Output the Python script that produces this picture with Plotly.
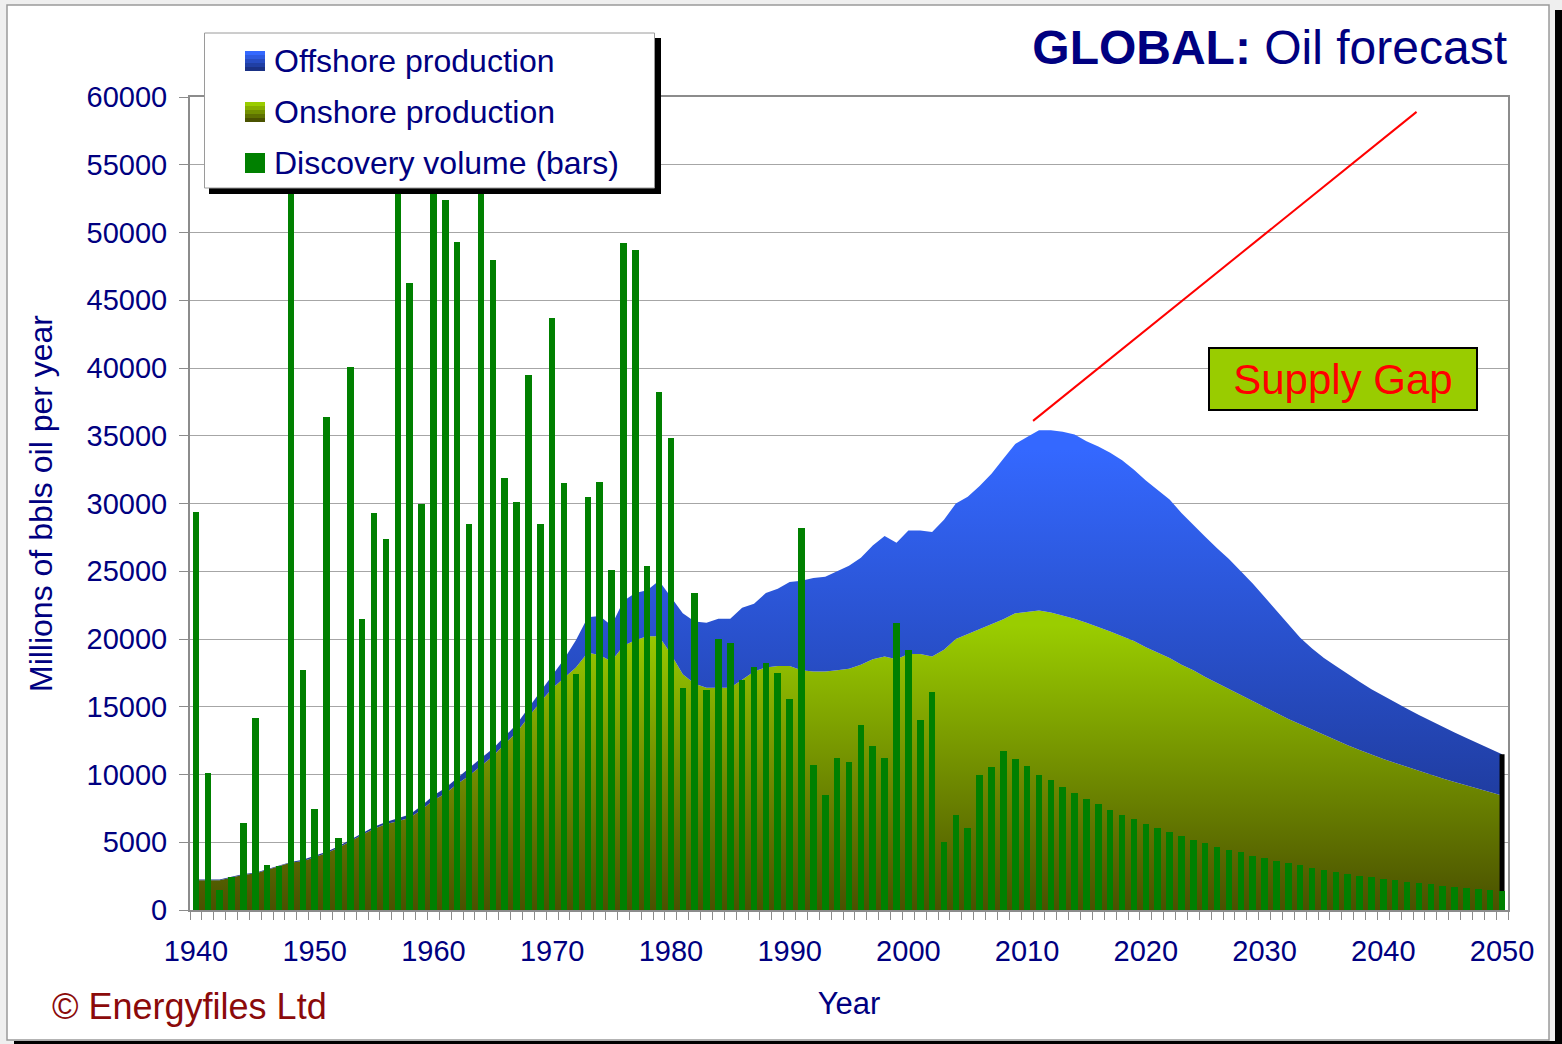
import plotly.graph_objects as go

# ---------------- data ----------------
years = list(range(1940, 2051))
x_tick_labels = [1940, 1950, 1960, 1970, 1980, 1990, 2000, 2010, 2020, 2030, 2040, 2050]

# Onshore production (millions of bbls per year)
onshore = [
    2200, 2200, 2200, 2400, 2600, 2700, 2950, 3250, 3500, 3600,        # 1940s
    3900, 4200, 4600, 5100, 5550, 6000, 6350, 6550, 6800, 7400,        # 1950s
    8100, 8600, 9300, 9900, 10650, 11350, 12250, 13100, 14250, 15350,  # 1960s
    16350, 17150, 17900, 19000, 18800, 18350, 19500, 19900, 20200, 20200,  # 1970s
    18900, 17400, 16700, 16400, 16400, 16400, 17000, 17600, 17900, 18000,  # 1980s
    18000, 17700, 17600, 17600, 17700, 17800, 18100, 18500, 18700, 18500,  # 1990s
    18900, 18900, 18700, 19200, 20000, 20350, 20700, 21100, 21450, 21900,  # 2000s
    22000, 22100, 21950, 21750, 21500, 21200, 20900, 20550, 20200, 19850,  # 2010s
    19400, 19000, 18600, 18100, 17700, 17200, 16750, 16300, 15850, 15400,  # 2020s
    14950, 14500, 14100, 13700, 13300, 12900, 12500, 12150, 11800, 11450,  # 2030s
    11150, 10850, 10550, 10250, 9950, 9700, 9450, 9200, 8950, 8700,        # 2040s
    8450,                                                              # 2050
]

# Offshore production (stacked on top of onshore)
offshore = [
    50, 50, 50, 50, 50, 50, 50, 50, 50, 100,
    100, 100, 100, 100, 100, 150, 150, 200, 250, 300,
    350, 400, 450, 550, 550, 550, 550, 600, 650, 750,
    950, 1350, 2000, 2600, 2900, 2650, 3300, 3500, 3400, 4100,
    4200, 4500, 4600, 4800, 5100, 5100, 5300, 5000, 5500, 5700,
    6200, 6600, 6900, 7000, 7300, 7600, 7900, 8400, 8900, 8600,
    9100, 9100, 9200, 9600, 10000, 10150, 10600, 11100, 11850, 12500,
    12900, 13300, 13450, 13550, 13600, 13400, 13300, 13200, 13000, 12650,
    12300, 12000, 11700, 11200, 10700, 10350, 9950, 9600, 9150, 8700,
    8150, 7600, 7000, 6400, 6000, 5700, 5500, 5250, 5050, 4850,
    4650, 4450, 4300, 4150, 4000, 3800, 3650, 3500, 3350, 3200,
    3050,
]

# Discovery volume (bars)
discovery = [
    29400, 10100, 1450, 2450, 6450, 14150, 3350, 3250, 57000, 17700,
    7450, 36400, 5350, 40100, 21500, 29300, 27400, 56000, 46300, 30000,
    55000, 52400, 49300, 28500, 58000, 48000, 31900, 30100, 39500, 28500,
    43700, 31500, 17400, 30500, 31600, 25100, 49200, 48700, 25400, 38200,
    34800, 16400, 23400, 16200, 20000, 19700, 17000, 17900, 18200, 17500,
    15600, 28200, 10700, 8500, 11200, 10900, 13650, 12100, 11200, 21200,
    19200, 14000, 16100, 5000, 7000, 6050, 10000, 10550, 11700, 11150,
    10600, 10000, 9600, 9100, 8600, 8200, 7800, 7400, 7000, 6700,
    6350, 6050, 5750, 5450, 5150, 4950, 4650, 4430, 4280, 3990,
    3840, 3620, 3470, 3320, 3100, 2950, 2800, 2660, 2510, 2410,
    2260, 2210, 2070, 1990, 1920, 1770, 1670, 1620, 1530, 1480,
    1400,
]

series_names = ["Offshore production", "Onshore production", "Discovery volume (bars)"]

# ---------------- styling ----------------
FONT = "Liberation Sans, Arial, sans-serif"
NAVY = "#000080"
W, H = 1562, 1044
L, R, T, B = 190, 54, 97, 134
PW, PH = W - L - R, H - T - B


def px_x(px):
    return (px - L) / PW


def px_y(py):
    return (H - B - py) / PH


fig = go.Figure()

fig.add_trace(go.Scatter(
    x=years, y=onshore, name=series_names[1], stackgroup="prod", mode="lines",
    line=dict(width=0, color="#99cc00"),
    fillgradient=dict(type="vertical", colorscale=[[0, "#4a5000"], [1, "#9acd00"]],
                      start=0, stop=21000),
    showlegend=False, hoverinfo="x+y",
))
fig.add_trace(go.Scatter(
    x=years, y=offshore, name=series_names[0], stackgroup="prod", mode="lines",
    line=dict(width=0, color="#3366ff"),
    fillgradient=dict(type="vertical",
                      colorscale=[[0, "#182f80"], [0.3, "#2140a8"], [1, "#3468ff"]],
                      start=0, stop=34000),
    showlegend=False, hoverinfo="x+y",
))
# black edge at the right end of the stacked area
fig.add_trace(go.Scatter(
    x=[years[-1], years[-1]], y=[0, onshore[-1] + offshore[-1]], mode="lines",
    line=dict(color="black", width=5), showlegend=False, hoverinfo="skip",
))
fig.add_trace(go.Bar(
    x=years, y=discovery, name=series_names[2], marker=dict(color="#008000", line=dict(width=0)),
    width=0.55, xaxis="x2", yaxis="y2", showlegend=False,
))

axis_common = dict(showline=True, linecolor="#8c8c8c", linewidth=2, mirror=True,
                   zeroline=False, automargin=False)

fig.update_layout(
    template="none",
    width=W, height=H,
    margin=dict(l=L, r=R, t=T, b=B, pad=0),
    paper_bgcolor="#efefef",
    plot_bgcolor="white",
    font=dict(family=FONT, color=NAVY),
    showlegend=False,
    title=dict(text="<b>GLOBAL:</b> Oil forecast", x=1507 / W, xanchor="right", xref="container",
               y=1 - 47 / H, yanchor="middle", yref="container",
               font=dict(family=FONT, size=48, color=NAVY)),
    xaxis=dict(range=[1939.5, 2050.5], tickvals=x_tick_labels, ticktext=[str(v) for v in x_tick_labels],
               ticks="", showgrid=False, tickfont=dict(size=29, color=NAVY), ticklabelstandoff=14,
               minor=dict(ticks="outside", ticklen=8, tickcolor="#8c8c8c", tickwidth=1,
                          tick0=1939.5, dtick=1, showgrid=False),
               title=dict(text="Year", font=dict(size=31, color=NAVY), standoff=27),
               **axis_common),
    yaxis=dict(range=[0, 60000], dtick=5000, tickformat="d", showgrid=True, gridcolor="#a6a6a6",
               gridwidth=1, ticks="outside", ticklen=9, tickcolor="#8c8c8c", tickwidth=1,
               tickfont=dict(size=29, color=NAVY), ticklabelstandoff=6,
               title=dict(text="Millions of bbls oil per year", font=dict(size=32, color=NAVY), standoff=24),
               **axis_common),
    xaxis2=dict(overlaying="x", matches="x", visible=False, range=[1939.5, 2050.5]),
    yaxis2=dict(overlaying="y", matches="y", visible=False, range=[0, 60000]),
    bargap=0,
)

shapes = []
# outer frame
shapes.append(dict(type="rect", xref="paper", yref="paper", layer="below",
                   x0=px_x(7), x1=px_x(1549), y0=px_y(1040), y1=px_y(5),
                   fillcolor="white", line=dict(color="#9a9a9a", width=1.5)))
shapes.append(dict(type="rect", xref="paper", yref="paper", layer="below",
                   x0=px_x(1555), x1=px_x(1563), y0=px_y(1045), y1=px_y(10),
                   fillcolor="black", line=dict(width=0)))
shapes.append(dict(type="rect", xref="paper", yref="paper", layer="below",
                   x0=px_x(14), x1=px_x(1563), y0=px_y(1045), y1=px_y(1041),
                   fillcolor="black", line=dict(width=0)))
# red "supply gap" line
shapes.append(dict(type="line", xref="x", yref="y", layer="above",
                   x0=2010.5, y0=36100, x1=2042.8, y1=58900, line=dict(color="red", width=2)))
# legend box with shadow
shapes.append(dict(type="rect", xref="paper", yref="paper", layer="above",
                   x0=px_x(209), x1=px_x(661), y0=px_y(194), y1=px_y(38),
                   fillcolor="black", line=dict(width=0)))
shapes.append(dict(type="rect", xref="paper", yref="paper", layer="above",
                   x0=px_x(204.5), x1=px_x(654.5), y0=px_y(188), y1=px_y(33),
                   fillcolor="white", line=dict(color="#9a9a9a", width=1)))


def hexmix(c1, c2, t):
    a = [int(c1[i:i + 2], 16) for i in (1, 3, 5)]
    b = [int(c2[i:i + 2], 16) for i in (1, 3, 5)]
    return "#" + "".join(f"{round(a[k] + (b[k] - a[k]) * t):02x}" for k in range(3))


swatches = [("#3468ff", "#1a3185", 61), ("#9acd00", "#4a5200", 112), ("#008000", "#008000", 163)]
for top, bot, cy in swatches:
    n = 5
    for k in range(n):
        y_top = cy - 10 + k * 20 / n
        shapes.append(dict(type="rect", xref="paper", yref="paper", layer="above",
                           x0=px_x(245), x1=px_x(265), y0=px_y(y_top + 20 / n), y1=px_y(y_top),
                           fillcolor=hexmix(top, bot, k / (n - 1)), line=dict(width=0)))

annotations = []
for name, (_, _, cy) in zip(series_names, swatches):
    annotations.append(dict(text=name, xref="paper", yref="paper", x=px_x(272), y=px_y(cy),
                            xanchor="left", yanchor="middle", showarrow=False,
                            font=dict(family=FONT, size=32, color=NAVY)))

annotations.append(dict(text="Supply Gap", xref="paper", yref="paper", x=px_x(1343), y=px_y(378.5),
                        xanchor="center", yanchor="middle", showarrow=False,
                        width=264, height=58, bgcolor="#99cc00", bordercolor="black", borderwidth=2,
                        font=dict(family=FONT, size=42, color="#ff0000")))
annotations.append(dict(text="\u00a9 Energyfiles Ltd", xref="paper", yref="paper", x=px_x(50), y=px_y(1006),
                        xanchor="left", yanchor="middle", showarrow=False,
                        font=dict(family=FONT, size=36, color="#8b0a0a")))

fig.update_layout(shapes=shapes, annotations=annotations)

fig.write_html("out.html", config={"displayModeBar": False},
               post_script="document.body.style.margin='0';document.body.style.overflow='hidden';")
